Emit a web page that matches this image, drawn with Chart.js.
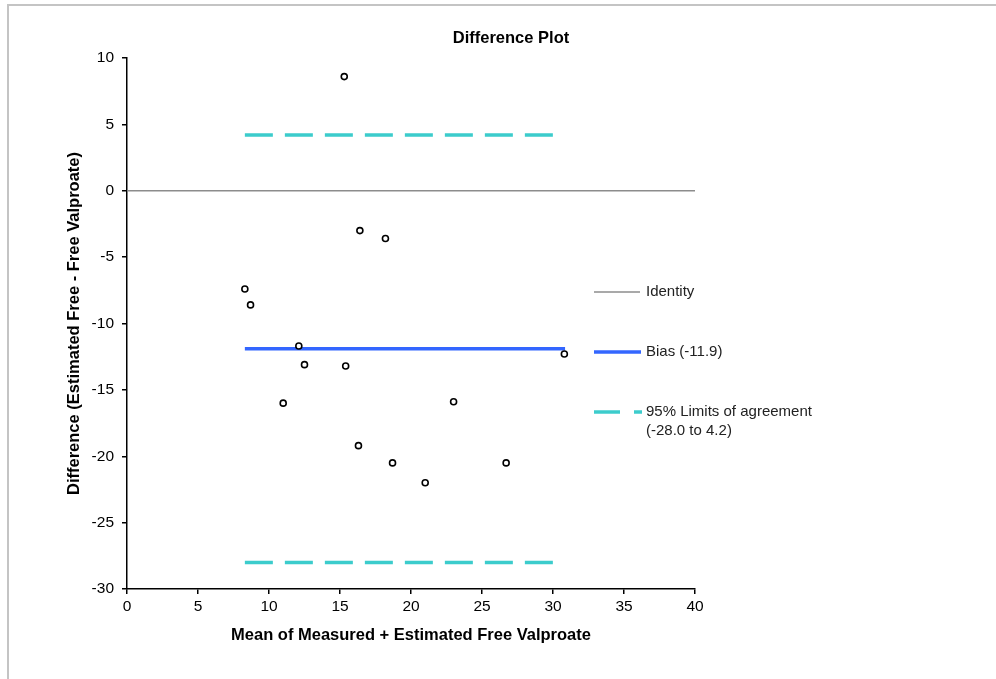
<!DOCTYPE html>
<html>
<head>
<meta charset="utf-8">
<title>Difference Plot</title>
<script src="https://cdn.jsdelivr.net/npm/chart.js@4"></script>
<style>
  body { margin: 0; background: #fff; }
  #wrap { position: relative; width: 996px; height: 679px; overflow: hidden; }
  #frame { position: absolute; left: 7px; top: 4px; width: 1200px; height: 900px;
           border-left: 2px solid #c4c4c4; border-top: 2px solid #c4c4c4; }
  canvas { position: absolute; left: 0; top: 0; }
</style>
</head>
<body>
<div id="wrap">
  <div id="frame"></div>
  <canvas id="plot" width="996" height="679"></canvas>
</div>
<script>
// mean of measured + estimated free valproate
var meanX = [15.3, 16.4, 18.2, 8.3, 8.7, 12.1, 12.5, 15.4, 30.8, 11.0, 23.0, 16.3, 18.7, 21.0, 26.7];
// difference (estimated free - free valproate)
var diffY = [8.6, -3.0, -3.6, -7.4, -8.6, -11.7, -13.1, -13.2, -12.3, -16.0, -15.9, -19.2, -20.5, -22.0, -20.5];

var bias = -11.9;
var lowerLimit = -28.0;
var upperLimit = 4.2;
var lineStart = 8.3;
var biasEnd = 30.85;
var limitsEnd = 30.0;
var xTicks = [0, 5, 10, 15, 20, 25, 30, 35, 40];
var yTicks = [10, 5, 0, -5, -10, -15, -20, -25, -30];

var gray = '#8c8c8c';
var blue = '#3366ff';
var cyan = '#3ccccc';
var fontFamily = '"Liberation Sans", Arial, sans-serif';

var points = [];
for (var i = 0; i < meanX.length; i++) {
    points.push({x: meanX[i], y: diffY[i]});
}

// title + legend drawn on canvas
var extras = {
    id: 'extras',
    afterDraw: function(chart) {
        var ctx = chart.ctx;
        ctx.save();
        ctx.fillStyle = '#000';
        ctx.font = 'bold 16.5px ' + fontFamily;
        ctx.textAlign = 'center';
        ctx.textBaseline = 'middle';
        ctx.fillText('Difference Plot', 511, 38);

        ctx.font = '15px ' + fontFamily;
        ctx.textAlign = 'left';
        ctx.fillStyle = '#222';

        ctx.strokeStyle = gray;
        ctx.lineWidth = 1.5;
        ctx.beginPath(); ctx.moveTo(594, 292); ctx.lineTo(640, 292); ctx.stroke();
        ctx.fillText('Identity', 646, 292);

        ctx.strokeStyle = blue;
        ctx.lineWidth = 3.5;
        ctx.beginPath(); ctx.moveTo(594, 352); ctx.lineTo(641, 352); ctx.stroke();
        ctx.fillText('Bias (-11.9)', 646, 352);

        ctx.strokeStyle = cyan;
        ctx.lineWidth = 3.5;
        ctx.beginPath(); ctx.moveTo(594, 412); ctx.lineTo(620, 412); ctx.stroke();
        ctx.beginPath(); ctx.moveTo(634, 412); ctx.lineTo(642, 412); ctx.stroke();
        ctx.fillText('95% Limits of agreement', 646, 412);
        ctx.fillText('(-28.0 to 4.2)', 646, 431);
        ctx.restore();
    }
};

var ctx = document.getElementById('plot');
var chart = new Chart(ctx, {
    type: 'scatter',
    data: {
        datasets: [{
            label: 'Data',
            data: points,
            pointRadius: 3,
            pointBorderWidth: 1.6,
            pointBackgroundColor: '#fff',
            pointBorderColor: '#000'
        }, {
            label: 'Identity',
            data: [{x: xTicks[0], y: 0}, {x: xTicks[xTicks.length - 1], y: 0}],
            showLine: true,
            borderColor: gray,
            borderWidth: 1.5,
            pointRadius: 0
        }, {
            label: 'Bias (-11.9)',
            data: [{x: lineStart, y: bias}, {x: biasEnd, y: bias}],
            showLine: true,
            borderColor: blue,
            borderWidth: 3.5,
            pointRadius: 0
        }, {
            label: '95% Limits of agreement',
            data: [{x: lineStart, y: upperLimit}, {x: limitsEnd, y: upperLimit}],
            showLine: true,
            borderColor: cyan,
            borderWidth: 3.5,
            borderDash: [28, 12],
            pointRadius: 0
        }, {
            label: 'lower',
            data: [{x: lineStart, y: lowerLimit}, {x: limitsEnd, y: lowerLimit}],
            showLine: true,
            borderColor: cyan,
            borderWidth: 3.5,
            borderDash: [28, 12],
            pointRadius: 0
        }]
    },
    options: {
        responsive: false,
        animation: false,
        devicePixelRatio: 1,
        layout: { padding: { left: 0, top: 58, right: 301, bottom: 0 } },
        plugins: {
            legend: { display: false },
            tooltip: { enabled: false }
        },
        scales: {
            x: {
                type: 'linear',
                min: 0, max: 40,
                afterBuildTicks: function(scale) {
                    scale.ticks = xTicks.map(function(v) { return {value: v}; });
                },
                afterFit: function(scale) { scale.height = 90; },
                grid: { drawOnChartArea: false, drawTicks: true, tickLength: 5, color: '#000', lineWidth: 1.5 },
                border: { color: '#000', width: 1.5 },
                ticks: { color: '#000', font: { family: fontFamily, size: 15.5 }, padding: 3, maxRotation: 0 },
                title: {
                    display: true,
                    text: 'Mean of Measured + Estimated Free Valproate',
                    color: '#000',
                    font: { family: fontFamily, size: 16.5, weight: 'bold' },
                    padding: { top: 0, bottom: 34 }
                }
            },
            y: {
                type: 'linear',
                min: -30, max: 10,
                afterBuildTicks: function(scale) {
                    scale.ticks = yTicks.map(function(v) { return {value: v}; });
                },
                afterFit: function(scale) { scale.width = 127; },
                grid: { drawOnChartArea: false, drawTicks: true, tickLength: 5, color: '#000', lineWidth: 1.5 },
                border: { color: '#000', width: 1.5 },
                ticks: { color: '#000', font: { family: fontFamily, size: 15.5 }, padding: 8 },
                title: {
                    display: true,
                    text: 'Difference (Estimated Free - Free Valproate)',
                    color: '#000',
                    font: { family: fontFamily, size: 16.5, weight: 'bold' },
                    padding: { top: 65, bottom: 0 }
                }
            }
        }
    },
    plugins: [extras]
});
</script>
</body>
</html>
